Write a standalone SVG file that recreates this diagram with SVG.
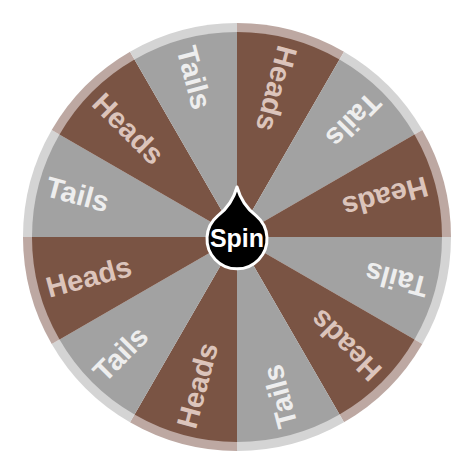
<svg xmlns="http://www.w3.org/2000/svg" width="474" height="474" viewBox="0 0 474 474">
<style>
.hr{fill:#BDA8A2}.h{fill:#7A5444}.tr{fill:#D4D4D4}.t{fill:#A2A2A2}
text{font-family:"Liberation Sans",Arial,sans-serif;font-weight:bold;font-size:29px}
.hl{fill:#DCC4BB}.tl{fill:#EEEEEE}
</style>
<rect width="474" height="474" fill="#FFFFFF"/>
<g id="seg1"><path class="hr" d="M237,237 L237,23 A214,214 0 0 1 344,51.7 Z"/><path class="h" d="M237,237 L237,32 A205,205 0 0 1 339.5,59.5 Z"/><text class="hl" transform="translate(288,46.7) rotate(105)" dy="0.35em">Heads</text></g>
<g id="seg2"><path class="tr" d="M237,237 L344,51.7 A214,214 0 0 1 422.3,130 Z"/><path class="t" d="M237,237 L339.5,59.5 A205,205 0 0 1 414.5,134.5 Z"/><text class="tl" transform="translate(376.3,97.7) rotate(135)" dy="0.35em">Tails</text></g>
<g id="seg3"><path class="hr" d="M237,237 L422.3,130 A214,214 0 0 1 451,237 Z"/><path class="h" d="M237,237 L414.5,134.5 A205,205 0 0 1 442,237 Z"/><text class="hl" transform="translate(427.3,186) rotate(165)" dy="0.35em">Heads</text></g>
<g id="seg4"><path class="tr" d="M237,237 L451,237 A214,214 0 0 1 422.3,344 Z"/><path class="t" d="M237,237 L442,237 A205,205 0 0 1 414.5,339.5 Z"/><text class="tl" transform="translate(427.3,288) rotate(195)" dy="0.35em">Tails</text></g>
<g id="seg5"><path class="hr" d="M237,237 L422.3,344 A214,214 0 0 1 344,422.3 Z"/><path class="h" d="M237,237 L414.5,339.5 A205,205 0 0 1 339.5,414.5 Z"/><text class="hl" transform="translate(376.3,376.3) rotate(225)" dy="0.35em">Heads</text></g>
<g id="seg6"><path class="tr" d="M237,237 L344,422.3 A214,214 0 0 1 237,451 Z"/><path class="t" d="M237,237 L339.5,414.5 A205,205 0 0 1 237,442 Z"/><text class="tl" transform="translate(288,427.3) rotate(255)" dy="0.35em">Tails</text></g>
<g id="seg7"><path class="hr" d="M237,237 L237,451 A214,214 0 0 1 130,422.3 Z"/><path class="h" d="M237,237 L237,442 A205,205 0 0 1 134.5,414.5 Z"/><text class="hl" transform="translate(186,427.3) rotate(285)" dy="0.35em">Heads</text></g>
<g id="seg8"><path class="tr" d="M237,237 L130,422.3 A214,214 0 0 1 51.7,344 Z"/><path class="t" d="M237,237 L134.5,414.5 A205,205 0 0 1 59.5,339.5 Z"/><text class="tl" transform="translate(97.7,376.3) rotate(315)" dy="0.35em">Tails</text></g>
<g id="seg9"><path class="hr" d="M237,237 L51.7,344 A214,214 0 0 1 23,237 Z"/><path class="h" d="M237,237 L59.5,339.5 A205,205 0 0 1 32,237 Z"/><text class="hl" transform="translate(46.7,288) rotate(345)" dy="0.35em">Heads</text></g>
<g id="seg10"><path class="tr" d="M237,237 L23,237 A214,214 0 0 1 51.7,130 Z"/><path class="t" d="M237,237 L32,237 A205,205 0 0 1 59.5,134.5 Z"/><text class="tl" transform="translate(46.7,186) rotate(15)" dy="0.35em">Tails</text></g>
<g id="seg11"><path class="hr" d="M237,237 L51.7,130 A214,214 0 0 1 130,51.7 Z"/><path class="h" d="M237,237 L59.5,134.5 A205,205 0 0 1 134.5,59.5 Z"/><text class="hl" transform="translate(97.7,97.7) rotate(45)" dy="0.35em">Heads</text></g>
<g id="seg12"><path class="tr" d="M237,237 L130,51.7 A214,214 0 0 1 237,23 Z"/><path class="t" d="M237,237 L134.5,59.5 A205,205 0 0 1 237,32 Z"/><text class="tl" transform="translate(186,46.7) rotate(75)" dy="0.35em">Tails</text></g>
<g id="spin">
<path d="M237,187 Q242,205 256.3,215.9 A30,30 0 1 1 217.7,215.9 Q232,205 237,187 Z" fill="#000000" stroke="#FFFFFF" stroke-width="3" stroke-linejoin="round"/>
<text x="237" y="247" text-anchor="middle" fill="#FFFFFF" style="font-size:25px">Spin</text>
</g>
</svg>
